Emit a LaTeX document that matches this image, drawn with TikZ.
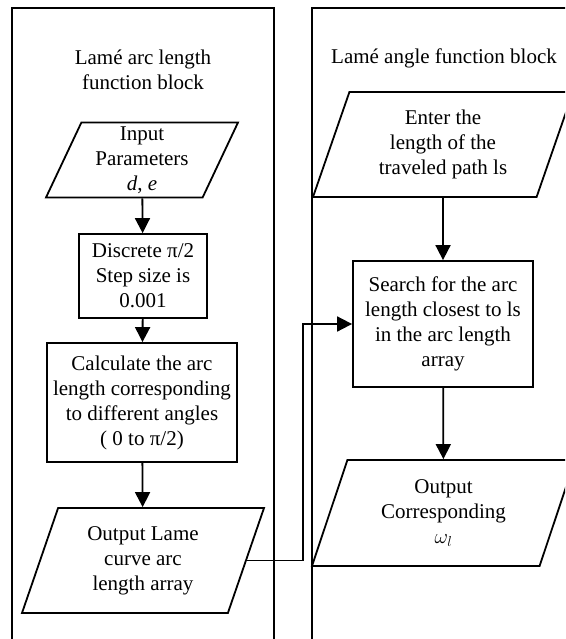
\documentclass[tikz,border=0pt]{standalone}
\usepackage{fontspec}
\setmainfont{Liberation Serif}
\usetikzlibrary{shapes.geometric,arrows.meta}

\begin{document}
\begin{tikzpicture}[
    x=1pt, y=-1pt,
    line width=1.8pt,
    every node/.style={font=\fontsize{21}{25}\selectfont, align=center},
    proc/.style={draw, rectangle, inner sep=2pt},
    io/.style={draw, trapezium, trapezium left angle=63.5, trapezium right angle=116.5,
        trapezium stretches body, inner sep=2pt},
    flow/.style={-{Triangle[length=15pt,width=15pt]}}
]

\useasboundingbox (0,0) rectangle (565,639);
\clip (0,0) rectangle (565,639);

% Blocks
\draw (12,700) -- (12,8) -- (274,8) -- (274,700);
\draw (312,700) -- (312,8) -- (700,8);

\node (titleL) at (143,70) {Lamé arc length\\function block};
\node (titleR) at (444,58) {Lamé angle function block};

% Left column
\node[io, minimum width=192pt, minimum height=75pt] (input) at (142,160)
    {Input\\Parameters\\\textit{d}, \textit{e}};
\node[proc, minimum width=128pt, minimum height=84pt] (discrete) at (143,276)
    {Discrete π/2\\Step size is\\0.001};
\node[proc, minimum width=190pt, minimum height=119pt] (calc) at (142,402.5)
    {Calculate the arc\\length corresponding\\to different angles\\( 0 to π/2)};
\node[io, minimum width=242pt, minimum height=105pt] (outL) at (143,560.5)
    {Output Lame\\curve arc\\length array};

% Right column
\node[io, minimum width=260pt, minimum height=105pt] (enter) at (443,144.5)
    {Enter the\\length of the\\traveled path ls};
\node[proc, minimum width=180pt, minimum height=126pt] (search) at (443,324)
    {Search for the arc\\length closest to ls\\in the arc length\\array};
\node[io, minimum width=263pt, minimum height=106pt] (outR) at (443.5,513)
    {Output\\Corresponding\\$\omega_l$};

% Edges
\draw[flow] (input)--(discrete);
\draw[flow] (discrete)--(calc);
\draw[flow] (calc)--(outL);

\draw[flow] (enter)--(search);
\draw[flow] (search)--(outR);

\draw[flow] (outL.east) -- ++(56,0) |- (search.west);

\end{tikzpicture}
\end{document}
